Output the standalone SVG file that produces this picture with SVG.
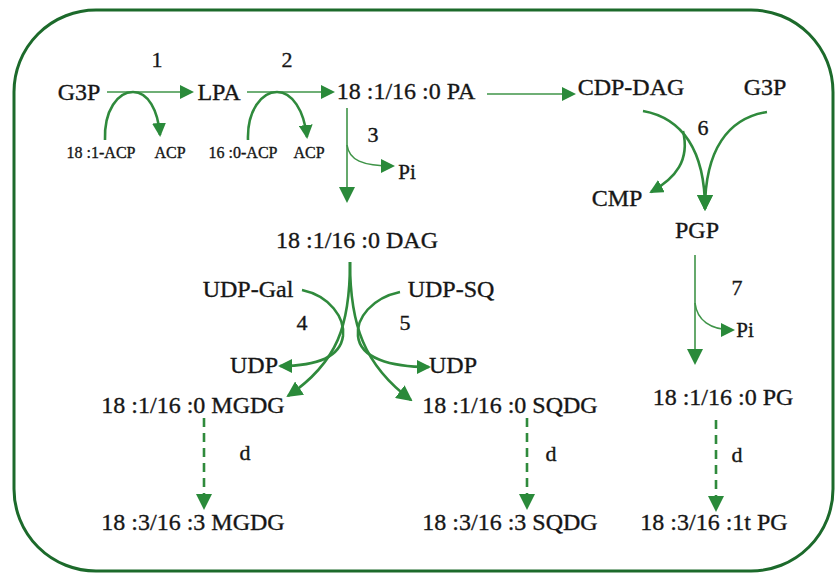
<svg xmlns="http://www.w3.org/2000/svg" width="836" height="574" viewBox="0 0 836 574">
  <style>
    text { font-family: "Liberation Serif", "Times New Roman", serif; fill: #161616; stroke: #161616; stroke-width: 0.35; text-anchor: middle; }
    .lbl { font-size: 24px; }
    .num { font-size: 22px; }
    .sm { font-size: 16px; }
    .pi { font-size: 21px; }
    .thin { fill: none; stroke: #3f9448; stroke-width: 1.6; }
    .curve { fill: none; stroke: #2f8a3c; stroke-width: 2.6; }
    .dash { fill: none; stroke: #2f8a3c; stroke-width: 2.6; stroke-dasharray: 9 6; }
  </style>
  <defs>
    <marker id="ah" viewBox="0 0 14 14" markerWidth="14" markerHeight="14" refX="12" refY="7" orient="auto" markerUnits="userSpaceOnUse">
      <path d="M0,0 L14,7 L0,14 z" fill="#2a8a3a"/>
    </marker>
    <marker id="ahL" viewBox="0 0 16 16" markerWidth="16" markerHeight="16" refX="14" refY="8" orient="auto" markerUnits="userSpaceOnUse">
      <path d="M0,0 L16,8 L0,16 z" fill="#2a8a3a"/>
    </marker>
  </defs>

  <!-- frame -->
  <rect x="14" y="10" width="819" height="561" rx="82" ry="82" fill="#ffffff" stroke="#1c6a2b" stroke-width="3"/>

  <!-- connectors -->
  <g id="connectors">
    <!-- step 1: G3P to LPA -->
    <path class="thin" d="M107,92 L192,92" marker-end="url(#ah)"/>
    <path class="curve" d="M105,140 C104,110 118,92 133,92 C148,92 158,110 160,135" marker-end="url(#ah)"/>
    <!-- step 2: LPA to PA -->
    <path class="thin" d="M247,92 L333,92" marker-end="url(#ah)"/>
    <path class="curve" d="M248,140 C247,110 262,92 277,92 C292,92 304,110 307,137" marker-end="url(#ah)"/>
    <!-- PA to CDP-DAG -->
    <path class="thin" d="M487,94 L574,94" marker-end="url(#ah)"/>
    <!-- step 3: PA to DAG, releasing Pi -->
    <path class="thin" d="M347,108 L347,201" marker-end="url(#ahL)"/>
    <path class="thin" d="M347,145 C349,160 362,166 393,166" marker-end="url(#ah)"/>
    <!-- step 6: CDP-DAG + G3P to PGP, releasing CMP -->
    <path class="curve" d="M643,111 C682,118 705,150 705,209" marker-end="url(#ahL)"/>
    <path class="curve" d="M767,112 C728,118 705,150 705,209" marker-end="url(#ahL)"/>
    <path class="curve" d="M683,131 C690,160 676,178 651,192" marker-end="url(#ah)"/>
    <!-- step 7: PGP to PG, releasing Pi -->
    <path class="thin" d="M695,255 L695,363" marker-end="url(#ahL)"/>
    <path class="thin" d="M695,303 C697,320 710,330 733,330" marker-end="url(#ah)"/>
    <!-- steps 4 and 5: DAG to MGDG and SQDG -->
    <path class="curve" d="M350,262 C350,325 338,362 288,396" marker-end="url(#ahL)"/>
    <path class="curve" d="M350,262 C350,325 364,365 411,400" marker-end="url(#ahL)"/>
    <path class="curve" d="M302,290 C330,296 345,318 343,336 C340,358 316,366 280,366" marker-end="url(#ah)"/>
    <path class="curve" d="M400,292 C372,298 356,318 358,336 C360,358 390,367 429,367" marker-end="url(#ah)"/>
    <!-- desaturation steps -->
    <path class="dash" d="M204,418 L204,508" marker-end="url(#ahL)"/>
    <path class="dash" d="M527,418 L527,508" marker-end="url(#ahL)"/>
    <path class="dash" d="M716,420 L716,510" marker-end="url(#ahL)"/>
  </g>

  <!-- step labels -->
  <g id="steps">
    <text class="num" x="157" y="67">1</text>
    <text class="num" x="287" y="67">2</text>
    <text class="num" x="373" y="142">3</text>
    <text class="num" x="302" y="330">4</text>
    <text class="num" x="405" y="330">5</text>
    <text class="num" x="703" y="135">6</text>
    <text class="num" x="737" y="295">7</text>
    <text class="num" x="245" y="460">d</text>
    <text class="num" x="551" y="461">d</text>
    <text class="num" x="737" y="462">d</text>
  </g>

  <!-- nodes -->
  <g id="g3p-1"><text class="lbl" x="79" y="100">G3P</text></g>
  <g id="lpa"><text class="lbl" x="219" y="100">LPA</text></g>
  <g id="pa"><text class="lbl" x="406" y="99">18 :1/16 :0 PA</text></g>
  <g id="cdp-dag"><text class="lbl" x="631" y="95">CDP-DAG</text></g>
  <g id="g3p-2"><text class="lbl" x="765" y="95">G3P</text></g>
  <g id="acyl-acp-1"><text class="sm" x="101" y="158">18 :1-ACP</text></g>
  <g id="acp-1"><text class="sm" x="170" y="158">ACP</text></g>
  <g id="acyl-acp-2"><text class="sm" x="243" y="158">16 :0-ACP</text></g>
  <g id="acp-2"><text class="sm" x="309" y="158">ACP</text></g>
  <g id="pi-1"><text class="pi" x="407" y="179">Pi</text></g>
  <g id="cmp"><text class="lbl" x="617" y="206">CMP</text></g>
  <g id="pgp"><text class="lbl" x="697" y="238">PGP</text></g>
  <g id="dag"><text class="lbl" x="357" y="248">18 :1/16 :0 DAG</text></g>
  <g id="udp-gal"><text class="lbl" x="248" y="297">UDP-Gal</text></g>
  <g id="udp-sq"><text class="lbl" x="451" y="297">UDP-SQ</text></g>
  <g id="udp-1"><text class="lbl" x="254" y="373">UDP</text></g>
  <g id="udp-2"><text class="lbl" x="453" y="373">UDP</text></g>
  <g id="pi-2"><text class="pi" x="745" y="337">Pi</text></g>
  <g id="mgdg-1"><text class="lbl" x="193" y="413">18 :1/16 :0 MGDG</text></g>
  <g id="sqdg-1"><text class="lbl" x="510" y="413">18 :1/16 :0 SQDG</text></g>
  <g id="pg-1"><text class="lbl" x="723" y="405">18 :1/16 :0 PG</text></g>
  <g id="mgdg-2"><text class="lbl" x="193" y="530">18 :3/16 :3 MGDG</text></g>
  <g id="sqdg-2"><text class="lbl" x="510" y="530">18 :3/16 :3 SQDG</text></g>
  <g id="pg-2"><text class="lbl" x="714" y="530">18 :3/16 :1t PG</text></g>
</svg>
